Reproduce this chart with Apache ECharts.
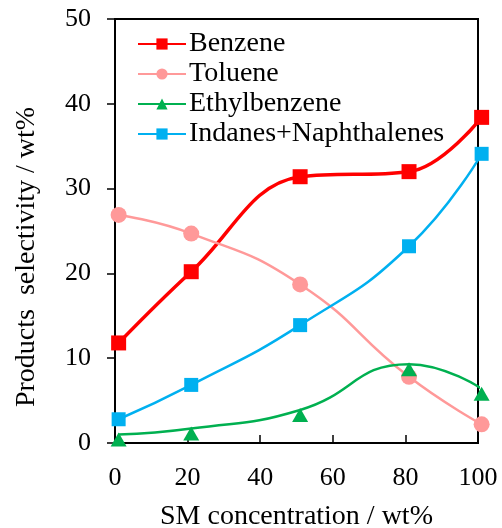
<!DOCTYPE html>
<html>
<head>
<meta charset="utf-8">
<script src="https://cdn.jsdelivr.net/npm/echarts@6/dist/echarts.min.js"></script>
<style>
  html, body { margin: 0; padding: 0; background: #fff; }
  #main { width: 502px; height: 528px; }
</style>
</head>
<body>
<div id="main"></div>
<script>
// 数据
var smConc = [1, 21, 51, 81, 101]
var benzene = [11.8, 20.2, 31.4, 32.0, 38.4]
var toluene = [26.9, 24.7, 18.7, 7.8, 2.2]
var ethylbenzene = [1.0, 1.7, 3.9, 9.3, 6.4]
var indanes = [2.8, 6.85, 13.9, 23.2, 34.1]
var yTicks = [0, 10, 20, 30, 40, 50]
var xTicks = [0, 20, 40, 60, 80, 100]

function pairs(ys) {
  return smConc.map(function (x, i) { return [x, ys[i]] })
}

var font = 'Liberation Serif'
var myChart = echarts.init(document.getElementById('main'))

var option = {
  animation: false,
  backgroundColor: '#fff',
  grid: {
    left: 115, right: 24, top: 19, bottom: 85,
    outerBoundsMode: 'none', containLabel: false,
    show: true, borderColor: '#000', borderWidth: 2
  },
  legend: {
    orient: 'vertical',
    left: 132, top: 24,
    itemWidth: 48, itemHeight: 14, itemGap: 0,
    textStyle: { fontFamily: font, fontSize: 28, color: '#000', lineHeight: 30, padding: [0, 0, 0, -2] },
    data: ['Benzene', 'Toluene', 'Ethylbenzene', 'Indanes+Naphthalenes']
  },
  xAxis: {
    type: 'value', min: xTicks[0], max: xTicks[xTicks.length - 1], interval: 20,
    name: 'SM concentration / wt%', nameLocation: 'middle', nameGap: 60,
    nameTextStyle: { fontFamily: font, fontSize: 28, color: '#000' },
    axisLine: { lineStyle: { color: '#000', width: 2 } },
    axisTick: { inside: true, length: 8, lineStyle: { color: '#000', width: 1.5 } },
    axisLabel: { fontFamily: font, fontSize: 26, color: '#000', margin: 22 },
    splitLine: { show: false }
  },
  yAxis: {
    type: 'value', min: yTicks[0], max: yTicks[yTicks.length - 1], interval: 10,
    name: 'Products  selectivity / wt%', nameLocation: 'middle', nameGap: 74,
    nameTextStyle: { fontFamily: font, fontSize: 28, color: '#000', padding: [0, 52, 0, 0] },
    axisLine: { lineStyle: { color: '#000', width: 2 } },
    axisTick: { inside: false, length: 8, lineStyle: { color: '#000', width: 1.5 } },
    axisLabel: { fontFamily: font, fontSize: 26, color: '#000', margin: 24 },
    splitLine: { show: false }
  },
  series: [
    {
      name: 'Benzene', type: 'line', smooth: 0.4, clip: false,
      data: pairs(benzene),
      symbol: 'rect', symbolSize: 15,
      itemStyle: { color: '#ff0000' },
      lineStyle: { color: '#ff0000', width: 3.5 }
    },
    {
      name: 'Toluene', type: 'line', smooth: 0.5, clip: false,
      data: pairs(toluene),
      symbol: 'circle', symbolSize: 16,
      itemStyle: { color: '#ff9999' },
      lineStyle: { color: '#ff9999', width: 2.5 }
    },
    {
      name: 'Ethylbenzene', type: 'line', smooth: 0.5, clip: false,
      data: pairs(ethylbenzene),
      symbol: 'triangle', symbolSize: [16, 14], symbolOffset: [0, 5],
      itemStyle: { color: '#00b050' },
      lineStyle: { color: '#00b050', width: 2.5 }
    },
    {
      name: 'Indanes+Naphthalenes', type: 'line', smooth: 0.5, clip: false,
      data: pairs(indanes),
      symbol: 'rect', symbolSize: 14,
      itemStyle: { color: '#00b0f0' },
      lineStyle: { color: '#00b0f0', width: 2.5 }
    }
  ]
}

myChart.setOption(option)
</script>
</body>
</html>
